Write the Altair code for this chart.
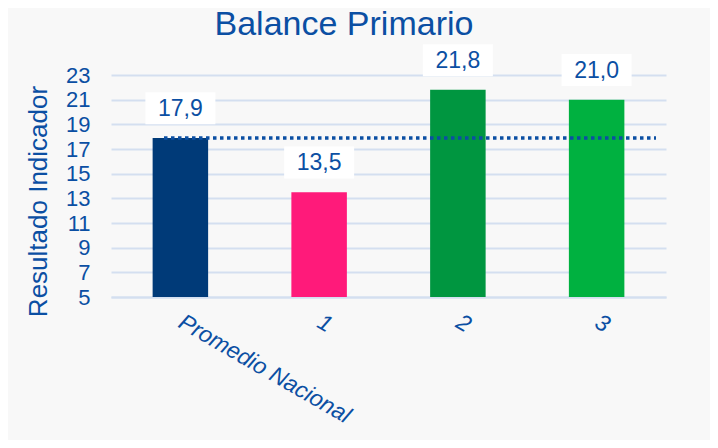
import altair as alt
import pandas as pd

categories = ["Promedio Nacional", "1", "2", "3"]
values = [17.9, 13.5, 21.8, 21.0]
colors = ["#003a78", "#ff1a7a", "#009640", "#00b140"]
average = [17.9]
y_ticks = [5, 7, 9, 11, 13, 15, 17, 19, 21, 23]

BLUE = "#0b4fa3"
FONT = "Liberation Sans"

df = pd.DataFrame({"cat": categories, "value": values, "color": colors})
avg_df = pd.DataFrame({"avg": average})

x_axis = alt.Axis(labelAngle=30, labelAlign="left", labelBaseline="middle",
                  labelFontStyle="italic", labelFontSize=23, labelColor=BLUE,
                  labelFont=FONT, labelPadding=23, labelLimit=400, ticks=False,
                  domain=True, domainColor="#d4dff0", domainWidth=2, grid=False)
x_scale = alt.Scale(paddingInner=0.6, paddingOuter=0.3)

y_axis = alt.Axis(values=y_ticks, labelFontSize=22, labelColor=BLUE, labelFont=FONT,
                  labelOverlap=False, titleFontSize=26, titleColor=BLUE, titleFont=FONT,
                  titleFontWeight="normal", titlePadding=14, titleY=126,
                  labelPadding=21, ticks=False, domain=False,
                  grid=True, gridColor="#d4dff0", gridWidth=2)
y_scale = alt.Scale(domain=[5, 23], nice=False, zero=False)
YT = "Resultado Indicador"

def X():
    return alt.X("cat:N", sort=categories, title=None, scale=x_scale, axis=x_axis)

base = alt.Chart(df)

bars = base.mark_bar(clip=False).encode(
    x=X(),
    y=alt.Y("value:Q", scale=y_scale, title=YT, axis=y_axis),
    y2=alt.datum(5),
    color=alt.Color("color:N", scale=None),
)

boxes = base.transform_calculate(
    lo="datum.value + 1.1", hi="datum.value + 3.7"
).mark_bar(color="white", width=70, clip=False).encode(
    x=X(),
    y=alt.Y("lo:Q", scale=y_scale, title=YT, axis=y_axis),
    y2="hi:Q",
)

labels = base.transform_calculate(
    txt="replace(format(datum.value, '.1f'), '.', ',')"
).mark_text(dy=-29, fontSize=23, color=BLUE, font=FONT, baseline="middle").encode(
    x=X(),
    y=alt.Y("value:Q", scale=y_scale, title=YT, axis=y_axis),
    text="txt:N",
)

avg_line = alt.Chart(avg_df).mark_rule(color="#0b4fa3", strokeWidth=3.5,
                                       strokeDash=[3.5, 3.5]).encode(
    y=alt.Y("avg:Q", scale=y_scale, title=YT, axis=y_axis),
    x=alt.value(53),
    x2=alt.value(545),
)

chart = alt.layer(bars, boxes, avg_line, labels).properties(
    width=555, height=222,
    autosize=alt.AutoSizeParams(type="none"),
    padding={"left": 103, "top": 67, "right": 44, "bottom": 143},
    background="#f8f8f8",
    title=alt.TitleParams("Balance Primario", fontSize=34, color=BLUE, font=FONT,
                          fontWeight="normal", anchor="start", offset=2, dx=189),
).configure_view(stroke=None)

chart.save("out.html", embed_options={"renderer": "svg", "actions": False})
